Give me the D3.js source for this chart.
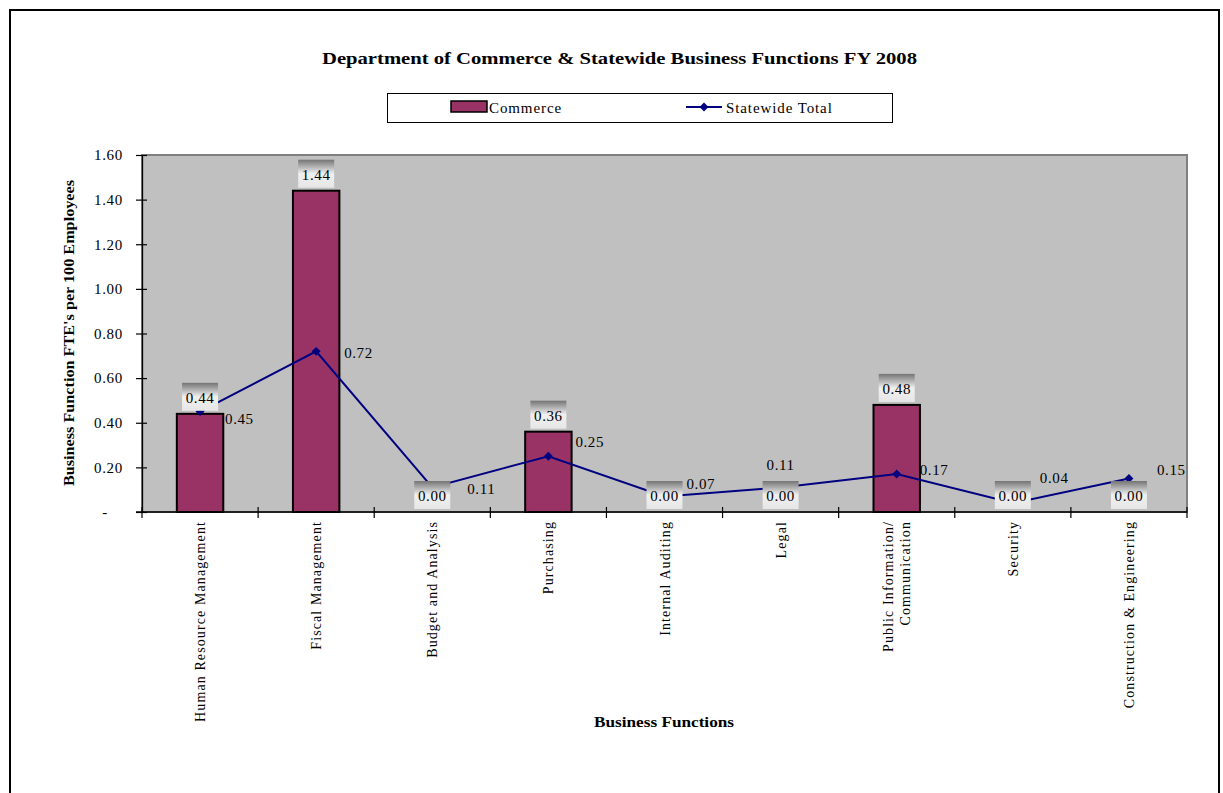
<!DOCTYPE html>
<html>
<head>
<meta charset="utf-8">
<script src="https://cdn.jsdelivr.net/npm/d3@7"></script>
<style>
  body { margin: 0; background: #fff; }
  svg text { font-family: "Liberation Serif", "Times New Roman", serif; fill: #000; }
</style>
</head>
<body>
<svg id="chart" width="1223" height="793"></svg>
<script>
// ---- data ----
const categories = [
  "Human Resource Management",
  "Fiscal Management",
  "Budget and Analysis",
  "Purchasing",
  "Internal Auditing",
  "Legal",
  "Public Information/|Communication",
  "Security",
  "Construction & Engineering"
];
const commerceValues = [0.44, 1.44, 0.00, 0.36, 0.00, 0.00, 0.48, 0.00, 0.00];
const statewideValues = [0.45, 0.72, 0.11, 0.25, 0.07, 0.11, 0.17, 0.04, 0.15];
const yTickValues = [0, 0.2, 0.4, 0.6, 0.8, 1.0, 1.2, 1.4, 1.6];
const seriesNames = ["Commerce", "Statewide Total"];
const titleText = "Department of Commerce & Statewide Business Functions FY 2008";
const yAxisTitle = "Business Function FTE's per 100 Employees";
const xAxisTitle = "Business Functions";

// ---- layout (label offsets for the line labels, in px from point) ----
const lineLabelOffsets = [[25, 12], [28, 7], [35, 7], [27, -9], [22, -7], [-14, -17], [23, 1], [27, -20], [28, -4]];

const svg = d3.select("#chart");
const barColor = "#993366";
const lineColor = "#000080";

// outer border
svg.append("rect").attr("x", 10).attr("y", 10).attr("width", 1209).attr("height", 800)
  .attr("fill", "none").attr("stroke", "#000").attr("stroke-width", 2);

// gradient for data label boxes
const defs = svg.append("defs");
const grad = defs.append("linearGradient").attr("id", "lblGrad")
  .attr("x1", 0).attr("y1", 0).attr("x2", 0).attr("y2", 1);
grad.append("stop").attr("offset", "0%").attr("stop-color", "#747474");
grad.append("stop").attr("offset", "50%").attr("stop-color", "#f0f0f0");
grad.append("stop").attr("offset", "100%").attr("stop-color", "#e6e6e6");

// scales
const x = d3.scaleBand().domain(categories).range([142, 1187]).padding(0);
const y = d3.scaleLinear().domain([0, 1.6]).range([512, 155]);

// diamond marker: square rotated 45 degrees
const diamond = d3.symbol(d3.symbolSquare, 40)();

// plot area
svg.append("rect").attr("x", 142).attr("y", 155).attr("width", 1187 - 142).attr("height", 512 - 155)
  .attr("fill", "#c0c0c0").attr("stroke", "#808080").attr("stroke-width", 2);

// title
svg.append("text").attr("x", 619.5).attr("y", 64).attr("text-anchor", "middle")
  .attr("font-size", 17).attr("font-weight", "bold")
  .attr("textLength", 595).attr("lengthAdjust", "spacingAndGlyphs")
  .text(titleText);

// legend
const lg = svg.append("g");
lg.append("rect").attr("x", 387.5).attr("y", 93.5).attr("width", 505).attr("height", 29)
  .attr("fill", "#fff").attr("stroke", "#000").attr("stroke-width", 1);
lg.append("rect").attr("x", 451).attr("y", 101).attr("width", 36).attr("height", 11)
  .attr("fill", barColor).attr("stroke", "#000").attr("stroke-width", 1.5);
lg.append("text").attr("x", 489).attr("y", 113).attr("font-size", 15).attr("letter-spacing", 0.9).text(seriesNames[0]);
lg.append("line").attr("x1", 686).attr("x2", 722).attr("y1", 107).attr("y2", 107)
  .attr("stroke", lineColor).attr("stroke-width", 2);
lg.append("path").attr("d", diamond).attr("transform", "translate(704,107) rotate(45)")
  .attr("fill", lineColor);
lg.append("text").attr("x", 726).attr("y", 113).attr("font-size", 15).attr("letter-spacing", 0.9).text(seriesNames[1]);

// y axis
const yAxis = d3.axisLeft(y).tickValues(yTickValues)
  .tickFormat(d => d === 0 ? "-" : d3.format(".2f")(d)).tickSizeInner(0).tickSizeOuter(0);
const yg = svg.append("g").attr("transform", "translate(142,0)").call(yAxis);
yg.select(".domain").attr("stroke", "#000").attr("stroke-width", 1.3);
yg.selectAll(".tick line").attr("x1", -6).attr("x2", 5).attr("stroke", "#000").attr("stroke-width", 1.2);
yg.selectAll(".tick text").attr("x", -19).attr("font-size", 15).attr("letter-spacing", 0.7)
  .attr("font-family", "Liberation Serif, serif").attr("fill", "#000");
yg.selectAll(".tick").filter(d => d === 0).select("text").attr("x", -34);

// x axis (ticks at band boundaries)
const xg = svg.append("g");
xg.append("line").attr("x1", 136).attr("x2", 1187).attr("y1", 512).attr("y2", 512)
  .attr("stroke", "#000").attr("stroke-width", 1.3);
const boundaries = categories.map(c => x(c)).concat([x(categories[categories.length - 1]) + x.bandwidth()]);
xg.selectAll(".xt").data(boundaries).join("line").attr("class", "xt")
  .attr("x1", d => d).attr("x2", d => d).attr("y1", 507).attr("y2", 518)
  .attr("stroke", "#000").attr("stroke-width", 1.2);

// category labels (rotated)
const cl = svg.append("g").selectAll("text").data(categories).join("text")
  .attr("transform", d => `translate(${x(d) + x.bandwidth() / 2},521) rotate(-90)`)
  .attr("text-anchor", "end").attr("font-size", 14).attr("letter-spacing", 1.1);
cl.each(function(d) {
  const parts = d.split("|");
  const t = d3.select(this);
  const n = parts.length;
  parts.forEach((p, i) => {
    t.append("tspan").attr("x", 0)
      .attr("y", (i - (n - 1) / 2) * 17 + 5)
      .text(p);
  });
});

// axis titles
svg.append("text").attr("transform", "translate(74,333) rotate(-90)")
  .attr("text-anchor", "middle").attr("font-size", 14).attr("font-weight", "bold")
  .attr("textLength", 306).attr("lengthAdjust", "spacingAndGlyphs").text(yAxisTitle);
svg.append("text").attr("x", 664).attr("y", 727).attr("text-anchor", "middle")
  .attr("font-size", 14).attr("font-weight", "bold")
  .attr("textLength", 140).attr("lengthAdjust", "spacingAndGlyphs").text(xAxisTitle);

// bars
const barW = x.bandwidth() * 0.4;
svg.append("g").selectAll("rect").data(commerceValues).join("rect")
  .attr("x", (d, i) => x(categories[i]) + (x.bandwidth() - barW) / 2)
  .attr("y", d => y(d)).attr("width", barW).attr("height", d => y(0) - y(d))
  .attr("fill", barColor).attr("stroke", "#000").attr("stroke-width", d => d > 0 ? 2 : 0);

// line
const cx = i => x(categories[i]) + x.bandwidth() / 2;
const line = d3.line().x((d, i) => cx(i)).y(d => y(d));
svg.append("path").datum(statewideValues).attr("d", line)
  .attr("fill", "none").attr("stroke", lineColor).attr("stroke-width", 2);
svg.append("g").selectAll("path").data(statewideValues).join("path")
  .attr("d", diamond)
  .attr("transform", (d, i) => `translate(${cx(i)},${y(d)}) rotate(45)`)
  .attr("fill", lineColor);

// commerce data labels in gradient boxes
const bl = svg.append("g").selectAll("g").data(commerceValues).join("g")
  .attr("transform", (d, i) => `translate(${cx(i)},${Math.min(y(d) - 3, 510)})`);
bl.append("rect").attr("x", -18).attr("y", -28).attr("width", 36).attr("height", 28)
  .attr("fill", "url(#lblGrad)");
bl.append("text").attr("x", 0).attr("y", -8).attr("text-anchor", "middle")
  .attr("font-size", 15).attr("letter-spacing", 0.6).attr("fill", "#222")
  .text(d => d3.format(".2f")(d));

// statewide data labels
svg.append("g").selectAll("text").data(statewideValues).join("text")
  .attr("x", (d, i) => cx(i) + lineLabelOffsets[i][0])
  .attr("y", (d, i) => y(d) + lineLabelOffsets[i][1])
  .attr("font-size", 15).attr("letter-spacing", 0.6).attr("fill", "#222")
  .text(d => d3.format(".2f")(d));
</script>
</body>
</html>
